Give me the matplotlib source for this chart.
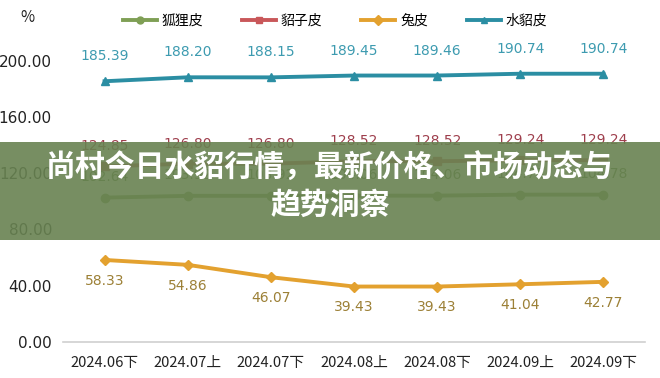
import matplotlib
matplotlib.use("Agg")
import matplotlib.pyplot as plt
from matplotlib.lines import Line2D
from matplotlib.patches import Rectangle

plt.rcParams['font.family'] = ['Noto Sans CJK SC', 'DejaVu Sans']

categories = ["2024.06下", "2024.07上", "2024.07下", "2024.08上", "2024.08下", "2024.09上", "2024.09下"]
fox = [102.64, 103.92, 103.92, 104.06, 104.06, 104.78, 104.78]
marten = [124.85, 126.80, 126.80, 128.52, 128.52, 129.24, 129.24]
rabbit = [58.33, 54.86, 46.07, 39.43, 39.43, 41.04, 42.77]
mink = [185.39, 188.20, 188.15, 189.45, 189.46, 190.74, 190.74]
yticks = [0, 40, 80, 120, 160, 200]
series_names = ["狐狸皮", "貂子皮", "兔皮", "水貂皮"]
title_text = "尚村今日水貂行情，最新价格、市场动态与\n趋势洞察"

fig = plt.figure(figsize=(6.6, 3.78), dpi=100)
ax = fig.add_axes([63/660, 1-342/378, (645-63)/660, (342-60.7)/378])
x = list(range(len(categories)))

styles = [
    (fox, "#7f9f55", "o", "#5e7a3e", 15),
    (marten, "#c9575a", "s", "#9e3e4c", 14.5),
    (rabbit, "#e3a12f", "D", "#9c8036", -15),
    (mink, "#2b8ea3", "^", "#3d9bb0", 18),
]
handles = []
for (vals, col, mk, lcol, off), name in zip(styles, series_names):
    ax.plot(x, vals, color=col, lw=2.8, marker=mk, ms=6 if mk != "D" else 5,
            clip_on=False, zorder=3)
    for xi, v in zip(x, vals):
        ax.annotate(f"{v:.2f}", (xi, v), xytext=(0, off), textcoords="offset points",
                    ha="center", va="center", fontsize=10, color=lcol,
                    family=['DejaVu Sans'], annotation_clip=False)
    handles.append(Line2D([0], [0], color=col, lw=2.8, marker=mk, ms=5))

ax.set_xlim(-0.5, 6.5)
ax.set_ylim(0, 200)
ax.set_yticks(yticks)
ax.set_yticklabels([f"{v:.2f}" for v in yticks], family=['DejaVu Sans'])
ax.set_xticks(x)
ax.set_xticklabels(categories)
ax.tick_params(axis="y", length=0, labelsize=11, colors="#222222", pad=8)
ax.tick_params(axis="x", length=0, labelsize=10.6, colors="#222222", pad=10)
for s in ["top", "right", "left"]:
    ax.spines[s].set_visible(False)
ax.spines["bottom"].set_color("#d0d0d0")
ax.spines["bottom"].set_linewidth(1.2)

fig.text(27/660, 1-18/378, "%", fontsize=11, color="#222222", ha="center", va="center")
fig.legend(handles, series_names, loc="center", bbox_to_anchor=(335/660, 1-21/378),
           ncol=4, frameon=False, fontsize=10, handlelength=2.45, columnspacing=2.8,
           handletextpad=0.35)

fig.patches.append(Rectangle((0, 1-240/378), 1, 98/378, transform=fig.transFigure,
                             facecolor=(104/255, 130/255, 81/255), alpha=0.9,
                             edgecolor="none", zorder=10))
fig.text(0.5, 1-186/378, title_text, ha="center", va="center", fontsize=21.5,
         fontweight="bold", color="white", zorder=11, linespacing=1.3)

fig.savefig("out.png", dpi=100)
